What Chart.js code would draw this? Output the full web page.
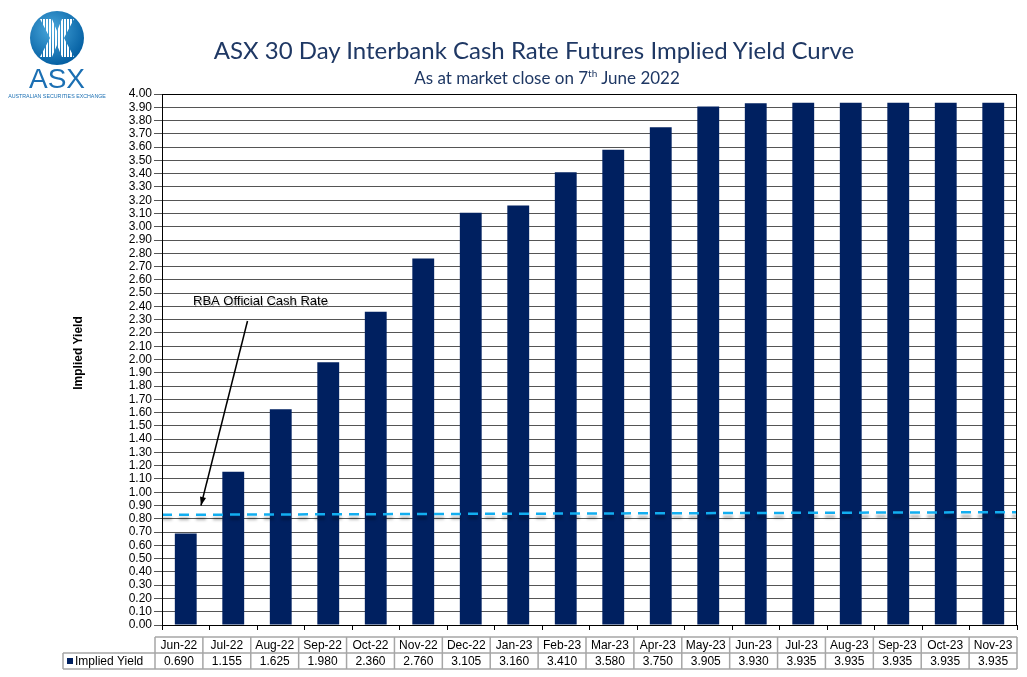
<!DOCTYPE html>
<html>
<head>
<meta charset="utf-8">
<script src="https://cdn.jsdelivr.net/npm/chart.js@4"></script>
<style>
  body { margin: 0; background: #fff; }
  #wrap { position: relative; width: 1027px; height: 677px; overflow: hidden; }
  #chart { position: absolute; left: 0; top: 0; }
  .title { position: absolute; text-align: center; color: #1f3864; font-family: Lato, "Open Sans", sans-serif; white-space: nowrap; }
  #t1 { top: 35px; left: 0; width: 1068px; font-size: 24px; }
  #t2 { top: 67px; left: 0; width: 1094px; font-size: 17px; }
  #t2 sup { font-size: 10px; }
  #logo { position: absolute; left: 0; top: 0; }
</style>
</head>
<body>
<div id="wrap">
  <canvas id="chart" width="1027" height="677"></canvas>
  <div class="title" id="t1">ASX 30 Day Interbank Cash Rate Futures Implied Yield Curve</div>
  <div class="title" id="t2">As at market close on 7<sup>th</sup> June 2022</div>
  <svg id="logo" width="120" height="105">
    <defs>
      <radialGradient id="g" cx="40%" cy="35%" r="70%">
        <stop offset="0" stop-color="#4aa8dc"/>
        <stop offset="1" stop-color="#005b9f"/>
      </radialGradient>
      <clipPath id="xc">
        <polygon points="40,19 52,19 57,31 62,19 74,19 64,38 74,57 62,57 57,45 52,57 40,57 50,38"/>
      </clipPath>
    </defs>
    <circle cx="57" cy="38" r="27" fill="url(#g)"/>
    <g clip-path="url(#xc)" fill="#fff">
      <rect x="40" y="18" width="2" height="40"/><rect x="43" y="18" width="2" height="40"/>
      <rect x="46" y="18" width="2" height="40"/><rect x="49" y="18" width="2" height="40"/>
      <rect x="52" y="18" width="2" height="40"/><rect x="55" y="18" width="2" height="40"/>
      <rect x="58" y="18" width="2" height="40"/><rect x="61" y="18" width="2" height="40"/>
      <rect x="64" y="18" width="2" height="40"/><rect x="67" y="18" width="2" height="40"/>
      <rect x="70" y="18" width="2" height="40"/><rect x="73" y="18" width="2" height="40"/>
    </g>
    <text x="57" y="88" text-anchor="middle" font-family="Liberation Sans, Arial" font-size="28" fill="#1b6fb3">ASX</text>
    <text x="57" y="98" text-anchor="middle" font-family="Liberation Sans, Arial" font-size="5.3" fill="#1b6fb3">AUSTRALIAN SECURITIES EXCHANGE</text>
  </svg>
</div>
<script>
const months = ['Jun-22','Jul-22','Aug-22','Sep-22','Oct-22','Nov-22','Dec-22','Jan-23','Feb-23',
  'Mar-23','Apr-23','May-23','Jun-23','Jul-23','Aug-23','Sep-23','Oct-23','Nov-23'];
const impliedYield = [0.690, 1.155, 1.625, 1.980, 2.360, 2.760, 3.105, 3.160, 3.410,
  3.580, 3.750, 3.905, 3.930, 3.935, 3.935, 3.935, 3.935, 3.935];
// RBA cash rate line, drawn across the whole plot (slightly sloped as in the source)
const rbaLine = [{x: 0, y: 0.83}, {x: 1, y: 0.85}];
const seriesName = 'Implied Yield';
const barColor = '#002060';

// shadow under the dashed cash-rate line
const lineShadow = {
  id: 'lineShadow',
  beforeDatasetDraw(chart, args) {
    if (args.index !== 1) return;
    const c = chart.ctx;
    c.save();
    c.shadowColor = 'rgba(0,0,0,0.35)';
    c.shadowOffsetY = 4;
    c.shadowBlur = 3;
  },
  afterDatasetDraw(chart, args) {
    if (args.index !== 1) return;
    chart.ctx.restore();
  }
};

const extras = {
  id: 'extras',
  afterDraw(chart) {
    const c = chart.ctx;
    const x = chart.scales.x, y = chart.scales.y;
    const a = chart.chartArea;
    c.save();
    // frame
    c.strokeStyle = '#000';
    c.lineWidth = 1;
    c.strokeRect(a.left + 0.5, a.top + 0.5, a.right - a.left - 1, a.bottom - a.top);

    // annotation
    c.font = '13px "Liberation Sans", Arial';
    c.textBaseline = 'middle';
    c.fillStyle = 'rgba(0,0,0,0.25)';
    c.fillText('RBA Official Cash Rate', 194, 303);
    c.fillStyle = '#000';
    c.fillText('RBA Official Cash Rate', 193, 301);
    const x1 = x.getPixelForValue(1.3), y1 = y.getPixelForValue(2.29);
    const x2 = x.getPixelForValue(0.32), y2 = y.getPixelForValue(0.90);
    c.strokeStyle = '#000';
    c.lineWidth = 1.5;
    c.beginPath(); c.moveTo(x1, y1); c.lineTo(x2, y2); c.stroke();
    const ang = Math.atan2(y2 - y1, x2 - x1);
    c.beginPath();
    c.moveTo(x2, y2);
    c.lineTo(x2 - 9 * Math.cos(ang - 0.35), y2 - 9 * Math.sin(ang - 0.35));
    c.lineTo(x2 - 9 * Math.cos(ang + 0.35), y2 - 9 * Math.sin(ang + 0.35));
    c.closePath(); c.fillStyle = '#000'; c.fill();

    // data table (its columns are slightly wider than the plot categories, as in the source)
    const r0 = 637, r1 = 653, r2 = 669, labelLeft = 63, first = 155;
    const colW = (a.right - first) / months.length;
    c.strokeStyle = '#a6a6a6';
    c.lineWidth = 1.5;
    c.beginPath();
    c.moveTo(first, r0); c.lineTo(a.right, r0);
    c.moveTo(labelLeft, r1); c.lineTo(a.right, r1);
    c.moveTo(labelLeft, r2); c.lineTo(a.right, r2);
    c.moveTo(labelLeft, r1); c.lineTo(labelLeft, r2);
    for (let i = 0; i <= months.length; i++) {
      const xr = first + i * colW;
      c.moveTo(xr, r0); c.lineTo(xr, r2);
    }
    c.stroke();
    c.font = '12px "Liberation Sans", Arial';
    c.fillStyle = '#000';
    c.textAlign = 'center';
    c.textBaseline = 'middle';
    months.forEach((m, i) => {
      const cx = first + (i + 0.5) * colW;
      c.fillText(m, cx, (r0 + r1) / 2 + 1);
      c.fillText(impliedYield[i].toFixed(3), cx, (r1 + r2) / 2 + 1);
    });
    c.textAlign = 'left';
    c.fillStyle = barColor;
    c.fillRect(67, 658, 6, 6);
    c.fillStyle = '#000';
    c.fillText(seriesName, 75, (r1 + r2) / 2 + 1);

    // y axis title
    c.font = 'bold 12px "Liberation Sans", Arial';
    c.translate(79, 353);
    c.rotate(-Math.PI / 2);
    c.textAlign = 'center';
    c.fillText('Implied Yield', 0, 0);
    c.restore();
  }
};

new Chart(document.getElementById('chart'), {
  type: 'bar',
  data: {
    labels: months,
    datasets: [
      {
        type: 'bar',
        label: seriesName,
        data: impliedYield,
        backgroundColor: barColor,
        grouped: false,
        barPercentage: 0.46,
        categoryPercentage: 1,
        order: 2
      },
      {
        type: 'line',
        label: 'RBA Official Cash Rate',
        data: rbaLine,
        xAxisID: 'x2',
        borderColor: '#12aef0',
        borderWidth: 2.5,
        borderDash: [10, 7],
        pointRadius: 0,
        fill: false,
        order: 1
      }
    ]
  },
  options: {
    responsive: false,
    animation: false,
    layout: { padding: { left: 0, top: 94, right: 10, bottom: 47 } },
    plugins: { legend: { display: false }, tooltip: { enabled: false } },
    scales: {
      x: {
        type: 'category',
        offset: true,
        ticks: { display: false },
        grid: { offset: true, drawOnChartArea: false, color: '#000', tickLength: 5 },
        border: { color: '#000' },
        afterFit(scale) { scale.height = 5; }
      },
      x2: {
        type: 'linear',
        min: 0,
        max: 1,
        offset: false,
        grid: { offset: false },
        display: false
      },
      y: {
        min: 0,
        max: 4,
        ticks: {
          stepSize: 0.1,
          autoSkip: false,
          padding: 2,
          color: '#000',
          font: { family: '"Liberation Sans", Arial', size: 12, lineHeight: 1 },
          callback: v => v.toFixed(2)
        },
        grid: { color: '#555', lineWidth: 1, tickLength: 8 },
        border: { color: '#000' },
        afterFit(scale) { scale.width = 162; }
      }
    }
  },
  plugins: [lineShadow, extras]
});
</script>
</body>
</html>
